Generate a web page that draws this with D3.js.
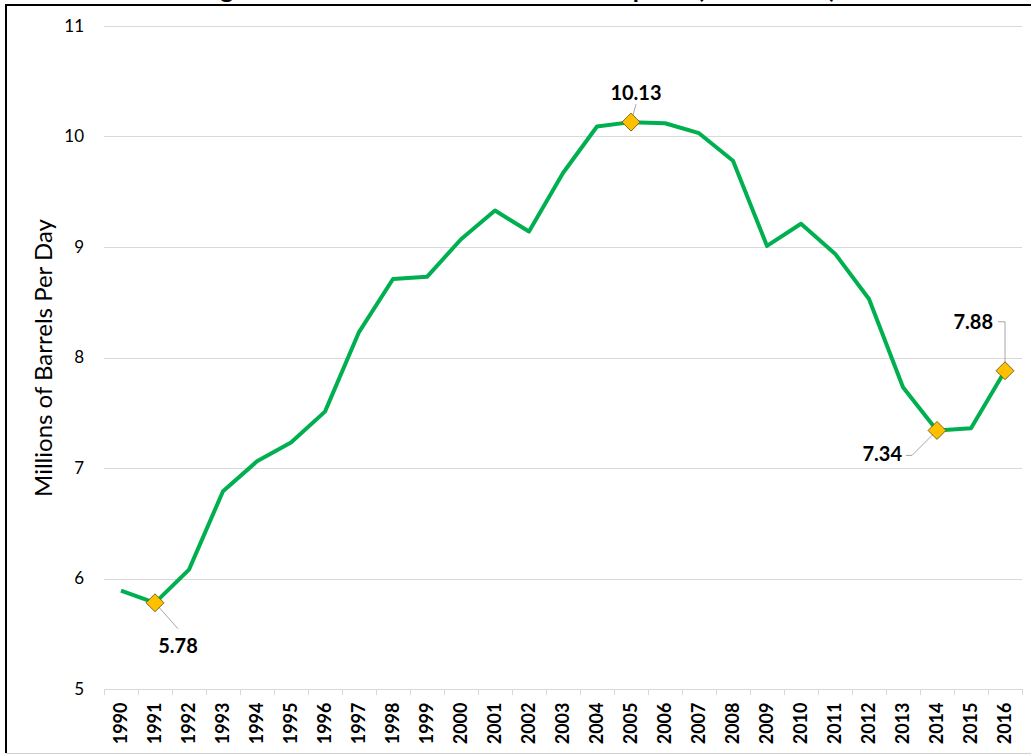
<!DOCTYPE html>
<html>
<head>
<meta charset="utf-8">
<script src="https://cdn.jsdelivr.net/npm/d3@7"></script>
<style>
  html, body { margin: 0; padding: 0; background: #fff; }
  svg { display: block; }
  text { font-family: Lato, "Open Sans", "DejaVu Sans", sans-serif; }
</style>
</head>
<body>
<svg id="chart" width="1031" height="755"></svg>
<script>
const title = "Average Annual United States Crude Oil Imports (1990-2016)";
const yAxisTitle = "Millions of Barrels Per Day";
const years = [1990,1991,1992,1993,1994,1995,1996,1997,1998,1999,2000,2001,2002,2003,2004,2005,2006,2007,2008,2009,2010,2011,2012,2013,2014,2015,2016];
const imports = [5.89,5.78,6.08,6.79,7.06,7.23,7.51,8.23,8.71,8.73,9.07,9.33,9.14,9.67,10.09,10.13,10.12,10.03,9.78,9.01,9.21,8.94,8.53,7.73,7.34,7.36,7.88];
const yTicks = [5,6,7,8,9,10,11];
const labeledYears = [1991, 2005, 2014, 2016];

const svg = d3.select("#chart");
const W = 1031, H = 755;

const x = d3.scaleBand().domain(years).range([104, 1022]).padding(0);
const y = d3.scaleLinear().domain([5, 11]).range([689, 26]);
const cx = d => x(d) + x.bandwidth() / 2;

// Title (clipped at the top of the frame, as in the reference)
svg.append("text")
  .attr("x", 496).attr("y", -2)
  .attr("text-anchor", "middle")
  .attr("font-weight", "bold").attr("font-size", 25)
  .attr("fill", "#000")
  .text(title);

// Frame
svg.append("rect").attr("x", 0).attr("y", 5).attr("width", W).attr("height", H)
  .attr("fill", "#fff");
svg.append("line").attr("x1", 5).attr("x2", W).attr("y1", 5).attr("y2", 5)
  .attr("stroke", "#000").attr("stroke-width", 2);
svg.append("line").attr("x1", 6).attr("x2", 6).attr("y1", 5).attr("y2", 753)
  .attr("stroke", "#000").attr("stroke-width", 2);
svg.append("line").attr("x1", 6).attr("x2", W).attr("y1", 753.5).attr("y2", 753.5)
  .attr("stroke", "#d0d0d0").attr("stroke-width", 1);

// Gridlines
svg.append("g").selectAll("line").data(yTicks.filter(t => t !== 5)).join("line")
  .attr("x1", 104).attr("x2", 1022)
  .attr("y1", d => Math.round(y(d)) + 0.5).attr("y2", d => Math.round(y(d)) + 0.5)
  .attr("stroke", "#d9d9d9").attr("stroke-width", 1);

// Y axis tick labels
const yAxis = d3.axisLeft(y).tickValues(yTicks).tickFormat(d3.format("d")).tickSize(0).tickPadding(0);
const gy = svg.append("g").attr("transform", "translate(84,0)").call(yAxis);
gy.select(".domain").remove();
gy.selectAll("text").attr("font-size", 17).attr("fill", "#000")
  .style("font-family", "Lato, 'Open Sans', sans-serif");

// X axis
const xAxis = d3.axisBottom(x).tickSize(0).tickPadding(0);
const gx = svg.append("g").attr("transform", "translate(0,689.5)").call(xAxis);
gx.select(".domain").attr("stroke", "#d9d9d9").attr("d", "M104,0H1022");
gx.selectAll(".tick line").remove();
gx.selectAll("text")
  .attr("font-size", 18).attr("font-weight", "bold").attr("fill", "#000")
  .style("font-family", "Lato, 'Open Sans', sans-serif")
  .attr("text-anchor", "end")
  .attr("transform", "translate(6,13) rotate(-90)")
  .attr("dy", 0).attr("y", 0).attr("x", 0);
// category separator ticks
const bounds = years.map(d => x(d)).concat([x(years[years.length - 1]) + x.bandwidth()]);
svg.append("g").selectAll("line").data(bounds).join("line")
  .attr("x1", d => Math.round(d) + 0.5).attr("x2", d => Math.round(d) + 0.5)
  .attr("y1", 689).attr("y2", 695)
  .attr("stroke", "#d9d9d9").attr("stroke-width", 1);

// Y axis title
svg.append("text")
  .attr("transform", `translate(52,358) rotate(-90)`)
  .attr("text-anchor", "middle")
  .attr("font-size", 24).attr("fill", "#000")
  .text(yAxisTitle);

// Line
const data = years.map((yr, i) => ({ year: yr, value: imports[i] }));
svg.append("path").datum(data)
  .attr("fill", "none").attr("stroke", "#00B050").attr("stroke-width", 4)
  .attr("stroke-linejoin", "round")
  .attr("d", d3.line().x(d => cx(d.year)).y(d => y(d.value)));

// Annotations
const place = {
  1991: { tx: 23, ty: 50, anchor: "middle", leader: [[23, 26]] },
  2005: { tx: 5, ty: -22, anchor: "middle", leader: [[5, -18]] },
  2014: { tx: -35, ty: 31, anchor: "end", leader: [[-31, 25], [-25, 25]] },
  2016: { tx: -12, ty: -42, anchor: "end", leader: [[-7, -49], [0, -49]] }
};
const ann = data.filter(d => labeledYears.includes(d.year));
const ga = svg.append("g");
ann.forEach(d => {
  const px = cx(d.year), py = y(d.value), p = place[d.year];
  const pts = p.leader.map(([a, b]) => [px + a, py + b]).concat([[px, py]]);
  ga.append("path").attr("d", d3.line()(pts))
    .attr("fill", "none").attr("stroke", "#a6a6a6").attr("stroke-width", 1);
});
ann.forEach(d => {
  const px = cx(d.year), py = y(d.value);
  ga.append("path")
    .attr("d", "M0,-9L9,0L0,9L-9,0Z")
    .attr("transform", `translate(${px},${py})`)
    .attr("fill", "#FFC000").attr("stroke", "#5a4a10").attr("stroke-width", 0.8);
});
ann.forEach(d => {
  const px = cx(d.year), py = y(d.value), p = place[d.year];
  ga.append("text")
    .attr("x", px + p.tx).attr("y", py + p.ty)
    .attr("text-anchor", p.anchor)
    .attr("font-size", 20).attr("font-weight", "bold").attr("fill", "#000")
    .text(d.value.toFixed(2));
});
</script>
</body>
</html>
